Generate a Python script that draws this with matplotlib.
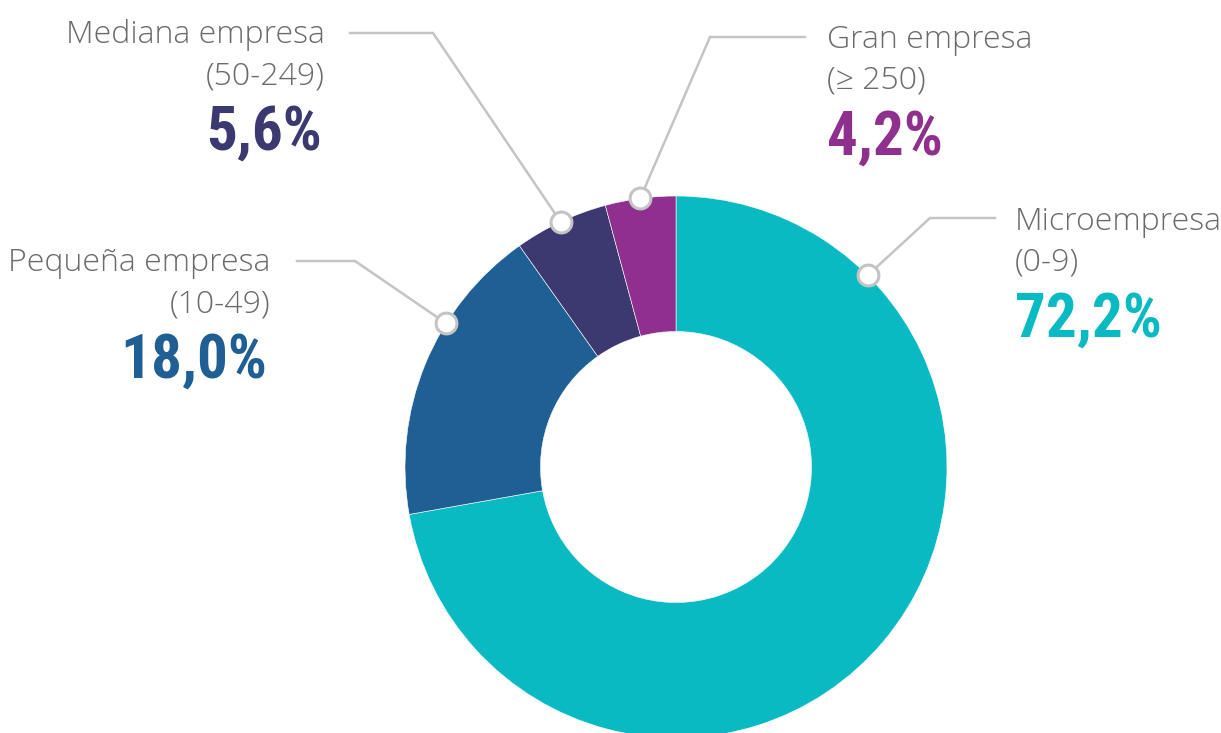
import numpy as np
import matplotlib.pyplot as plt
from matplotlib import font_manager

# empresas por tamaño (número de asalariados)
labels = ['Microempresa', 'Pequeña empresa', 'Mediana empresa', 'Gran empresa']
ranges = ['(0-9)', '(10-49)', '(50-249)', '(≥ 250)']
shares = [72.2, 18.0, 5.6, 4.2]
colors = ['#0abac3', '#1f5f94', '#3c3970', '#90308e']

# look for a condensed bold face for the big numbers
names = {f.name for f in font_manager.fontManager.ttflist}
cond = None
for cand in ['Roboto Condensed', 'Open Sans Condensed', 'Liberation Sans Narrow',
             'DejaVu Sans Condensed']:
    if cand in names:
        cond = cand
        break
if cond is None:
    cond = 'DejaVu Sans'

W, H = 1221, 733
fig = plt.figure(figsize=(W / 100, H / 100), dpi=100)
ax = fig.add_axes([0, 0, 1, 1])

cx, cy, R = 676, H - 467, 271

ax.pie(shares, colors=colors, startangle=90, counterclock=False,
       center=(cx, cy), radius=R, frame=True,
       wedgeprops=dict(width=R * 0.5, edgecolor='white', linewidth=0.4))
ax.set_xlim(0, W)
ax.set_ylim(0, H)
ax.set_aspect('equal')
ax.axis('off')

# marker angle, elbow point, end of line, text anchor (x, baseline of first line), alignment
layout = [
    (45, (930, 218), (995, 218), (1015, 230), 'left'),
    (148, (355, 261), (297, 261), (270, 271), 'right'),
    (115.2, (433, 33), (350, 33), (325, 43), 'right'),
    (97.6, (710, 37), (805, 37), (827, 48), 'left'),
]

line_col = '#c4c4c4'
text_col = '#6b6b6b'

for lab, rng, val, col, (ang, elb, end, txt, ha) in zip(labels, ranges, shares, colors, layout):
    a = np.deg2rad(ang)
    mx, my = cx + R * np.cos(a), cy + R * np.sin(a)
    ax.plot([mx, elb[0], end[0]], [my, H - elb[1], H - end[1]],
            color=line_col, lw=1.8, zorder=3, solid_joinstyle='miter')
    ax.plot(mx, my, 'o', ms=15, mfc='white', mec=line_col, mew=2.2, zorder=4)
    tx, ty = txt
    ax.text(tx, H - ty, lab, ha=ha, va='baseline', fontsize=23,
            color=text_col, family=['Open Sans', 'DejaVu Sans'], fontweight='light')
    ax.text(tx, H - ty - 41, rng, ha=ha, va='baseline', fontsize=23,
            color=text_col, family=['Open Sans', 'DejaVu Sans'], fontweight='light')
    pct = f'{val:.1f}%'.replace('.', ',')
    ax.text(tx - (3 if ha == 'right' else 0), H - ty - 107, pct, ha=ha, va='baseline',
            fontsize=44, color=col, fontweight='bold', fontstretch='condensed',
            family=[cond, 'DejaVu Sans'])

fig.savefig('out.png', dpi=100)
